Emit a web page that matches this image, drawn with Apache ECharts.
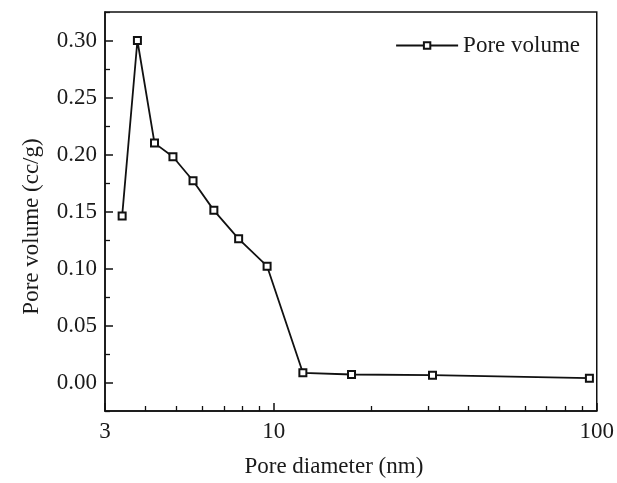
<!DOCTYPE html>
<html>
<head>
<meta charset="utf-8">
<script src="https://cdn.jsdelivr.net/npm/echarts@6/dist/echarts.min.js"></script>
<style>
  html, body { margin: 0; padding: 0; background: #fff; }
</style>
</head>
<body>
<div id="chart" style="width: 617px; height: 483px"></div>
<script>
// pore diameter (nm) and pore volume (cc/g)
var poreDiameter = [3.39, 3.78, 4.27, 4.87, 5.62, 6.52, 7.78, 9.53, 12.3, 17.4, 31.0, 94.9];
var poreVolume = [0.146, 0.300, 0.210, 0.198, 0.177, 0.151, 0.126, 0.102, 0.0085, 0.0070, 0.0064, 0.0038];

var yMajorTicks = [0, 0.05, 0.10, 0.15, 0.20, 0.25, 0.30];
var yMinorTicks = [-0.025, 0.025, 0.075, 0.125, 0.175, 0.225, 0.275, 0.325];
var xMinorTicks = [4, 5, 6, 7, 8, 9, 20, 30, 40, 50, 60, 70, 80, 90];

var font = "Liberation Serif";
var ink = "#1a1a1a";

var myChart = echarts.init(document.getElementById("chart"));

var points = [];
for (var i = 0; i < poreDiameter.length; i++) {
  points.push([poreDiameter[i], poreVolume[i]]);
}

const option = {
  backgroundColor: "#fff",
  animation: false,
  grid: {
    left: 105,
    right: 20,
    top: 12,
    bottom: 71,
    show: true,
    borderColor: "#111",
    borderWidth: 1.5,
  },
  legend: {
    data: ["Pore volume"],
    right: 32,
    top: 29,
    itemWidth: 62,
    itemHeight: 8,
    itemGap: 4,
    textStyle: { fontFamily: font, fontSize: 23, color: ink },
  },
  xAxis: [
    {
      type: "log",
      logBase: 10,
      min: 3,
      max: 100,
      name: "Pore diameter (nm)",
      nameLocation: "middle",
      nameGap: 44,
      nameTextStyle: { fontFamily: font, fontSize: 23, color: ink, padding: [0, 34, 0, 0] },
      axisLine: { onZero: false, lineStyle: { color: "#111", width: 1.5 } },
      axisTick: { inside: true, length: 8, lineStyle: { color: "#111", width: 1.5 } },
      axisLabel: {
        margin: 9,
        fontFamily: font,
        fontSize: 23,
        color: ink,
        formatter: function (v) { return String(Math.round(v)); },
      },
      splitLine: { show: false },
      minorTick: { show: false },
    },
    {
      // minor ticks only
      type: "log",
      logBase: 10,
      min: 3,
      max: 100,
      position: "bottom",
      axisLine: { show: false, onZero: false },
      axisTick: {
        inside: true,
        length: 5,
        customValues: xMinorTicks,
        lineStyle: { color: "#111", width: 1.3 },
      },
      axisLabel: { show: false },
      splitLine: { show: false },
    },
  ],
  yAxis: [
    {
      type: "value",
      min: -0.025,
      max: 0.325,
      interval: 0.025,
      name: "Pore volume (cc/g)",
      nameLocation: "middle",
      nameGap: 62,
      nameTextStyle: { fontFamily: font, fontSize: 23, color: ink, padding: [0, 30, 0, 0] },
      axisLine: { show: true, onZero: false, lineStyle: { color: "#111", width: 1.5 } },
      axisTick: {
        show: true,
        inside: true,
        length: 8,
        customValues: yMajorTicks,
        lineStyle: { color: "#111", width: 1.5 },
      },
      axisLabel: {
        margin: 8,
        customValues: yMajorTicks,
        fontFamily: font,
        fontSize: 23,
        color: ink,
        formatter: function (v) { return v.toFixed(2); },
      },
      splitLine: { show: false },
    },
    {
      // minor ticks only
      type: "value",
      min: -0.025,
      max: 0.325,
      interval: 0.025,
      position: "left",
      axisLine: { show: false, onZero: false },
      axisTick: {
        show: true,
        inside: true,
        length: 5,
        customValues: yMinorTicks,
        lineStyle: { color: "#111", width: 1.3 },
      },
      axisLabel: { show: false },
      splitLine: { show: false },
    },
  ],
  series: [
    {
      name: "Pore volume",
      type: "line",
      xAxisIndex: 0,
      yAxisIndex: 0,
      symbol: "emptyRect",
      symbolSize: 7,
      showAllSymbol: true,
      lineStyle: { color: "#111", width: 1.8 },
      itemStyle: { color: "#111", borderWidth: 1.3 },
      data: points,
    },
  ],
};
myChart.setOption(option);
window.onresize = function () {
  myChart.resize();
};
</script>
</body>
</html>
